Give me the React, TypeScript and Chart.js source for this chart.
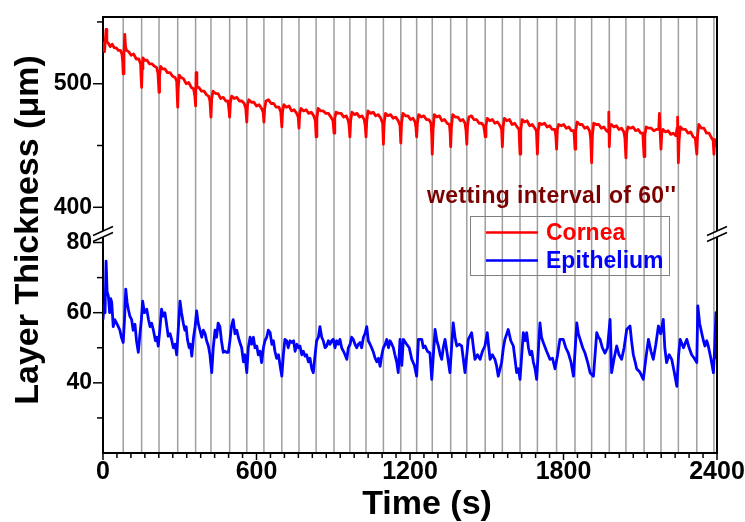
import React, { useEffect, useRef } from "react";
import { Chart, registerables } from "chart.js";

Chart.register(...registerables);

const FONT = "'Liberation Sans', Arial, Helvetica, sans-serif";

// ---- axis ticks / labels ----
const timeMajorTicks = [0, 600, 1200, 1800, 2400];
const timeMinorCount = 10; // minor ticks between two major ticks
const corneaAxisTicks = [400, 450, 500, 550];
const corneaAxisLabels = [400, 500];
const epiAxisTicks = [30, 40, 50, 60, 70, 80];
const epiAxisLabels = [40, 60, 80];

// ---- text ----
const seriesNames = ["Cornea", "Epithelium"];
const seriesColors = ["#ff0000", "#0000ff"];
const noteText = "wetting interval of 60''";
const xTitle = "Time (s)";
const yTitle = "Layer Thickness (\u03bcm)";

// ---- wetting moments (s) : grey vertical lines ----
const wettingTimes = [
  79, 151, 219, 292, 362, 422, 495, 562, 629, 699, 766, 833, 903, 965, 1028,
  1096, 1164, 1226, 1287, 1359, 1422, 1494, 1561, 1630, 1698, 1773, 1845,
  1910, 1979, 2044, 2115, 2181, 2249, 2321, 2388,
];

// ---- Cornea thickness readings [time s, thickness um] ----
const corneaReadings: [number, number][] = [
  [0,528],[3,533],[6,526],[10,538],[12,544],[15,534],[20,533],[28,530],[36,532],[44,529],[52,529],[60,527],[68,527],[74,524],[77,518],[79,508],
  [82,524],[85,540],[88,530],[92,527],[100,526],[110,523],[120,524],[130,520],[140,520],[147,516],[149,505],[151,497],
  [153,512],[156,521],[162,519],[172,519],[182,516],[192,516],[202,514],[210,513],[215,508],[219,493],
  [221,506],[225,514],[232,512],[242,512],[252,509],[262,509],[272,506],[282,505],[288,502],[292,481],
  [294,496],[298,507],[305,505],[315,504],[325,500],[335,501],[345,497],[354,496],[359,490],[362,482],
  [364,509],[367,497],[375,497],[385,494],[395,494],[405,491],[413,490],[418,486],[422,473],
  [425,488],[430,494],[440,492],[450,492],[460,488],[470,489],[480,486],[488,486],[492,480],[495,473],
  [498,485],[503,490],[513,488],[523,489],[533,486],[543,486],[552,484],[558,480],[562,469],
  [565,483],[570,487],[580,485],[590,485],[600,482],[610,483],[620,480],[626,477],[629,469],
  [632,480],[637,486],[647,487],[657,484],[667,484],[677,481],[688,481],[695,477],[699,465],
  [702,478],[707,483],[717,481],[727,482],[737,478],[747,479],[757,476],[763,473],[766,464],
  [769,476],[774,480],[784,478],[794,479],[804,476],[814,477],[824,474],[830,470],[833,457],
  [836,472],[841,480],[851,478],[861,478],[871,476],[881,476],[891,473],[899,470],[903,460],
  [906,472],[911,477],[921,476],[931,476],[941,473],[951,474],[959,470],[962,466],[965,457],
  [968,470],[973,477],[983,475],[993,476],[1003,473],[1013,474],[1021,471],[1025,466],[1028,457],
  [1031,470],[1036,478],[1046,476],[1056,477],[1066,474],[1076,475],[1086,472],[1093,468],[1096,451],
  [1099,468],[1104,476],[1114,474],[1124,475],[1134,472],[1144,473],[1154,470],[1161,466],[1164,452],
  [1167,468],[1172,476],[1182,474],[1192,474],[1202,471],[1212,472],[1220,469],[1223,465],[1226,457],
  [1229,468],[1234,475],[1244,473],[1254,474],[1264,471],[1274,471],[1282,468],[1285,458],[1287,443],
  [1290,462],[1295,475],[1305,473],[1315,474],[1325,470],[1335,471],[1345,468],[1354,467],[1357,460],[1359,449],
  [1362,465],[1367,475],[1377,473],[1387,473],[1397,470],[1407,471],[1415,468],[1419,462],[1422,451],
  [1425,466],[1430,473],[1440,474],[1450,471],[1460,471],[1470,468],[1480,468],[1488,466],[1491,462],[1494,457],
  [1497,466],[1502,472],[1512,470],[1522,471],[1532,468],[1542,469],[1552,466],[1558,463],[1561,449],
  [1564,465],[1569,472],[1579,470],[1589,471],[1599,467],[1609,468],[1619,465],[1626,463],[1630,443],
  [1633,462],[1638,471],[1648,469],[1658,470],[1668,466],[1678,467],[1688,464],[1694,462],[1698,443],
  [1701,462],[1706,468],[1716,467],[1726,468],[1736,465],[1746,466],[1756,463],[1766,463],[1770,458],[1773,447],
  [1776,463],[1781,467],[1791,466],[1801,467],[1811,464],[1821,465],[1831,462],[1840,462],[1842,458],[1845,447],
  [1848,462],[1853,469],[1863,467],[1873,467],[1883,464],[1893,465],[1902,462],[1906,456],[1910,436],
  [1913,458],[1918,468],[1928,467],[1938,467],[1948,464],[1958,465],[1968,462],[1974,461],[1977,477],[1979,449],
  [1982,466],[1987,467],[1997,465],[2007,466],[2017,463],[2027,464],[2036,461],[2040,456],[2044,440],
  [2047,460],[2052,465],[2062,464],[2072,465],[2082,462],[2092,463],[2102,460],[2110,460],[2115,441],
  [2118,458],[2123,465],[2133,464],[2143,464],[2153,462],[2163,463],[2172,463],[2175,476],[2178,460],[2181,447],
  [2184,460],[2189,463],[2199,461],[2209,462],[2219,459],[2229,460],[2239,458],[2244,464],[2246,473],[2249,436],
  [2252,455],[2257,465],[2267,463],[2277,463],[2287,460],[2297,461],[2307,457],[2315,456],[2321,443],
  [2324,458],[2329,467],[2339,464],[2349,464],[2359,460],[2369,460],[2379,456],[2385,454],[2388,443],
  [2391,455],[2396,453],[2400,449],
];

// ---- Epithelium thickness readings [time s, thickness um] ----
const epitheliumReadings: [number, number][] = [
  [0,58],[4,62],[8,60],[12,74.7],[16,66],[21,64.7],[26,60],[30,64],[34,63],[40,56],[46,58],[53,57],[60,56],[66,55],[72,53],[79,51.5],
  [84,58],[89,66.7],[94,63],[99,61],[105,59],[112,58],[118,55],[125,56.7],[131,52],[138,48.7],[145,54.4],
  [150,58],[155,63.3],[162,60],[171,61],[178,58],[184,56],[190,57],[197,55],[205,52],[211,53],[216,50.5],
  [222,55],[229,61],[235,59],[242,60],[248,57],[255,53.3],[262,54],[268,52.4],[275,50],[282,51],[288,48],
  [294,55],[301,63.3],[307,60],[314,57],[320,55],[325,56],[330,52.4],[337,50],[342,51],[347,47.6],[354,53],[360,56],
  [366,60.5],[372,57],[379,55],[386,53],[392,55],[399,54],[405,52],[412,50.5],[418,48],[425,42.9],
  [431,50],[438,55],[444,53],[450,57],[457,56],[463,52],[470,48.7],[477,49],[483,48.7],[490,48.7],
  [496,52],[502,56],[509,58],[516,54],[523,55],[529,53],[535,51.5],[542,50],[549,46],[555,48],[562,42.9],
  [568,50],[575,53],[581,51],[588,53],[594,50],[601,50.5],[607,48],[614,49],[620,45.8],
  [627,50],[633,52],[640,53],[646,55],[653,54.4],[660,51],[666,52],[672,49],[679,47],[686,48],[692,45],[699,41.9],
  [705,48],[711,52.4],[718,52],[724,50],[731,52],[738,51.5],[745,52],[751,49],[758,51],[764,50],
  [770,50.5],[777,48],[783,49],[790,47.6],[796,48],[803,46],[809,47],[816,44],[822,42.9],
  [829,48],[835,52],[842,53],[848,56],[855,53],[861,52],[868,50],[874,50.5],[881,52],[887,51],[894,52],[900,52.4],
  [907,50],[913,52],[920,51],[926,52.4],[933,50],[940,49],[946,48],[953,46.7],[959,50],
  [966,51],[972,53],[978,52.4],[985,51],[992,50],[998,51],[1005,51.5],[1011,50],[1018,53],[1024,54],
  [1031,56],[1037,52],[1044,51],[1050,50],[1057,48.7],[1064,47],[1070,46],[1077,47],[1083,44.7],[1090,48],
  [1096,50],[1103,51],[1109,52.4],[1116,50],[1122,52],[1129,51],[1135,50],[1141,48],[1148,46],[1154,42.9],
  [1161,52.4],[1168,45],[1174,52.4],[1187,51],[1197,50],[1207,46.7],[1217,45],[1226,41.9],
  [1233,52.4],[1246,52.4],[1252,50],[1259,50.5],[1268,49],[1278,48.5],[1285,41],
  [1298,55.2],[1305,52],[1311,50.5],[1318,48],[1324,46.7],[1330,50],[1337,52.4],[1346,48],[1356,42.9],
  [1369,57.1],[1376,53],[1383,50.5],[1392,51],[1402,50.5],[1408,47],[1415,42.9],
  [1428,52.4],[1441,54.3],[1448,50],[1454,46.7],[1464,48],[1474,46.7],[1483,49],[1493,50.5],
  [1502,54.3],[1508,50],[1513,46.7],[1522,48],[1532,46.7],[1538,45],[1545,41.9],[1552,44],[1558,45.8],
  [1565,50],[1571,52.4],[1584,55.2],[1594,52],[1604,50.5],[1610,47],[1617,42.9],[1624,44],[1630,41],
  [1643,54.3],[1650,52],[1656,54.3],[1663,50],[1669,48],[1676,49],[1682,46],[1689,44],[1695,41],
  [1708,57.1],[1714,53],[1721,51.5],[1734,49],[1747,46.7],[1757,47],[1767,44],[1777,48],
  [1786,52.4],[1799,52.4],[1809,50],[1819,48.5],[1829,46],[1839,41.9],
  [1852,57.1],[1858,54],[1865,52.4],[1875,50],[1884,48.5],[1894,46],[1904,42.9],[1917,41.9],
  [1930,54.3],[1937,53],[1943,52.4],[1952,50],[1962,48.5],[1972,50],[1982,58.1],[1988,42.9],
  [1998,47],[2008,50.5],[2017,48],[2027,46.7],[2037,50],[2047,55.2],[2060,56.2],[2066,52],[2073,48],[2080,46],[2086,44],
  [2099,43],[2112,41],[2122,47],[2132,52.4],[2142,49],[2151,46.7],[2161,51],[2171,56.2],[2180,54],[2190,58.1],
  [2196,50],[2203,45.8],[2213,48],[2223,46.7],[2233,43],[2243,39],[2250,48],[2256,52.4],[2269,50],[2282,52.4],
  [2291,50],[2301,48],[2311,47],[2321,45.8],[2325,61.9],[2332,57],[2340,54.3],[2347,52],[2353,50.5],[2360,52],
  [2366,50.5],[2376,47],[2386,42.9],[2391,50],[2396,60],[2400,46.7],
];

function isMajorTime(v: number) {
  return timeMajorTicks.some((m) => Math.abs(m - v) < 1e-6);
}

function buildTimeTicks() {
  const out: { value: number }[] = [];
  for (let i = 0; i < timeMajorTicks.length - 1; i++) {
    const a = timeMajorTicks[i];
    const b = timeMajorTicks[i + 1];
    for (let j = 0; j <= timeMinorCount; j++) {
      out.push({ value: a + ((b - a) * j) / (timeMinorCount + 1) });
    }
  }
  out.push({ value: timeMajorTicks[timeMajorTicks.length - 1] });
  return out;
}

const decorPlugin = {
  id: "decor",
  beforeDatasetsDraw(chart: any) {
    const { ctx, chartArea: a } = chart;
    const xs = chart.scales.x;
    ctx.save();
    ctx.strokeStyle = "#9e9e9e";
    ctx.lineWidth = 1.5;
    for (const t of wettingTimes) {
      const px = xs.getPixelForValue(t);
      ctx.beginPath();
      ctx.moveTo(px, a.top + 1);
      ctx.lineTo(px, a.bottom - 1);
      ctx.stroke();
    }
    ctx.restore();
  },
  afterDraw(chart: any) {
    const { ctx, chartArea: a } = chart;
    const xs = chart.scales.x;
    const yt = chart.scales.yTop;
    const yb = chart.scales.yBot;
    ctx.save();
    ctx.strokeStyle = "#000";
    ctx.lineCap = "butt";

    // frame (top, right)
    ctx.lineWidth = 2;
    ctx.beginPath();
    ctx.moveTo(a.left, a.top);
    ctx.lineTo(a.right, a.top);
    ctx.lineTo(a.right, a.bottom);
    ctx.stroke();

    // tick marks
    ctx.lineWidth = 1.5;
    for (const tk of xs.ticks) {
      const px = xs.getPixelForValue(tk.value);
      const len = isMajorTime(tk.value) ? 7 : 5;
      ctx.beginPath();
      ctx.moveTo(px, a.bottom);
      ctx.lineTo(px, a.bottom + len);
      ctx.stroke();
    }
    const yPairs: [any, number[]][] = [
      [yt, corneaAxisLabels],
      [yb, epiAxisLabels],
    ];
    for (const [sc, labels] of yPairs) {
      for (const tk of sc.ticks) {
        const py = sc.getPixelForValue(tk.value);
        const len = labels.includes(tk.value) ? 10 : 6;
        ctx.beginPath();
        ctx.moveTo(a.left, py);
        ctx.lineTo(a.left - len, py);
        ctx.stroke();
      }
    }

    // axis break marks
    const by = yt.bottom + 2;
    for (const bx of [a.left, a.right]) {
      const s = 4 / 9;
      ctx.fillStyle = "#fff";
      ctx.beginPath();
      ctx.moveTo(bx - 3, by - 3 + 3 * s);
      ctx.lineTo(bx + 3, by - 3 - 3 * s);
      ctx.lineTo(bx + 3, by + 3 - 3 * s);
      ctx.lineTo(bx - 3, by + 3 + 3 * s);
      ctx.closePath();
      ctx.fill();
      ctx.lineWidth = 1.5;
      for (const off of [-3, 3]) {
        ctx.beginPath();
        ctx.moveTo(bx - 10, by + off + 10 * s);
        ctx.lineTo(bx + 10, by + off - 10 * s);
        ctx.stroke();
      }
    }

    // annotation
    ctx.fillStyle = "#7d0000";
    ctx.font = `bold 23px ${FONT}`;
    ctx.textAlign = "left";
    ctx.textBaseline = "alphabetic";
    try {
      (ctx as any).letterSpacing = "0.4px";
    } catch (e) {}
    ctx.fillText(noteText, 427, 203);
    try {
      (ctx as any).letterSpacing = "0px";
    } catch (e) {}

    // legend
    ctx.strokeStyle = "#808080";
    ctx.lineWidth = 1;
    ctx.strokeRect(470.5, 216.5, 199, 59);
    const ds = chart.data.datasets;
    const rows = [232.5, 260.5];
    ds.forEach((d: any, i: number) => {
      ctx.strokeStyle = d.borderColor;
      ctx.lineWidth = 2.5;
      ctx.beginPath();
      ctx.moveTo(486, rows[i]);
      ctx.lineTo(538, rows[i]);
      ctx.stroke();
      ctx.fillStyle = d.borderColor;
      ctx.font = `bold 23px ${FONT}`;
      ctx.textAlign = "left";
      ctx.textBaseline = "middle";
      ctx.fillText(d.label, 546, rows[i] + 1);
    });

    // axis titles
    ctx.fillStyle = "#000";
    ctx.font = `bold 34px ${FONT}`;
    ctx.textAlign = "center";
    ctx.textBaseline = "alphabetic";
    ctx.fillText(xTitle, 427, 514);
    ctx.save();
    ctx.translate(38, 230);
    ctx.rotate(-Math.PI / 2);
    ctx.fillText(yTitle, 0, 0);
    ctx.restore();

    ctx.restore();
  },
};

export default function App() {
  const ref = useRef<HTMLCanvasElement | null>(null);
  useEffect(() => {
    if (!ref.current) return;
    const tickFont = { family: FONT, size: 25, weight: "bold" as const };
    const yFont = { family: FONT, size: 23, weight: "bold" as const };
    const chart = new Chart(ref.current, {
      type: "line",
      data: {
        datasets: [
          {
            label: seriesNames[0],
            data: corneaReadings.map(([x, y]) => ({ x, y })),
            xAxisID: "x",
            yAxisID: "yTop",
            borderColor: seriesColors[0],
            borderWidth: 2.8,
            pointRadius: 0,
            fill: false,
            tension: 0,
          },
          {
            label: seriesNames[1],
            data: epitheliumReadings.map(([x, y]) => ({ x, y })),
            xAxisID: "x",
            yAxisID: "yBot",
            borderColor: seriesColors[1],
            borderWidth: 2.8,
            pointRadius: 0,
            fill: false,
            tension: 0,
          },
        ],
      },
      options: {
        responsive: false,
        animation: false,
        devicePixelRatio: 1,
        layout: { padding: { top: 17, right: 28, left: 0, bottom: 0 } },
        plugins: {
          legend: { display: false },
          tooltip: { enabled: false },
        },
        elements: { line: { borderJoinStyle: "round" } },
        scales: {
          x: {
            type: "linear",
            position: "bottom",
            min: 0,
            max: 2400,
            afterBuildTicks: (s: any) => {
              s.ticks = buildTimeTicks();
            },
            afterFit: (s: any) => {
              s.height = 69;
              s.paddingLeft = 0;
              s.paddingRight = 0;
            },
            grid: { drawOnChartArea: false, drawTicks: false },
            border: { display: true, color: "#000", width: 2 },
            ticks: {
              autoSkip: false,
              maxRotation: 0,
              minRotation: 0,
              padding: 4,
              color: "#000",
              font: tickFont,
              callback: (v: any) => (isMajorTime(Number(v)) ? String(Math.round(Number(v))) : ""),
            },
          },
          yTop: {
            type: "linear",
            position: "left",
            stack: "left",
            stackWeight: 215,
            weight: 2,
            min: 380,
            max: 554,
            afterBuildTicks: (s: any) => {
              s.ticks = corneaAxisTicks.map((v) => ({ value: v }));
            },
            afterFit: (s: any) => {
              s.width = 103;
              s.paddingTop = 0;
              s.paddingBottom = 0;
            },
            grid: { drawOnChartArea: false, drawTicks: false },
            border: { display: true, color: "#000", width: 2 },
            ticks: {
              autoSkip: false,
              padding: 11,
              color: "#000",
              font: yFont,
              callback: (v: any) => (corneaAxisLabels.includes(Number(v)) ? String(v) : ""),
            },
          },
          yBot: {
            type: "linear",
            position: "left",
            stack: "left",
            stackWeight: 221,
            weight: 1,
            min: 20,
            max: 83,
            afterBuildTicks: (s: any) => {
              s.ticks = epiAxisTicks.map((v) => ({ value: v }));
            },
            afterFit: (s: any) => {
              s.width = 103;
              s.paddingTop = 0;
              s.paddingBottom = 0;
            },
            grid: { drawOnChartArea: false, drawTicks: false },
            border: { display: true, color: "#000", width: 2 },
            ticks: {
              autoSkip: false,
              padding: 11,
              color: "#000",
              font: yFont,
              callback: (v: any) => (epiAxisLabels.includes(Number(v)) ? String(v) : ""),
            },
          },
        },
      } as any,
      plugins: [decorPlugin],
    });
    return () => chart.destroy();
  }, []);

  return (
    <div
      style={{
        position: "fixed",
        left: 0,
        top: 0,
        width: 745,
        height: 522,
        background: "#fff",
      }}
    >
      <canvas ref={ref} width={745} height={522} style={{ display: "block", width: 745, height: 522 }} />
    </div>
  );
}
